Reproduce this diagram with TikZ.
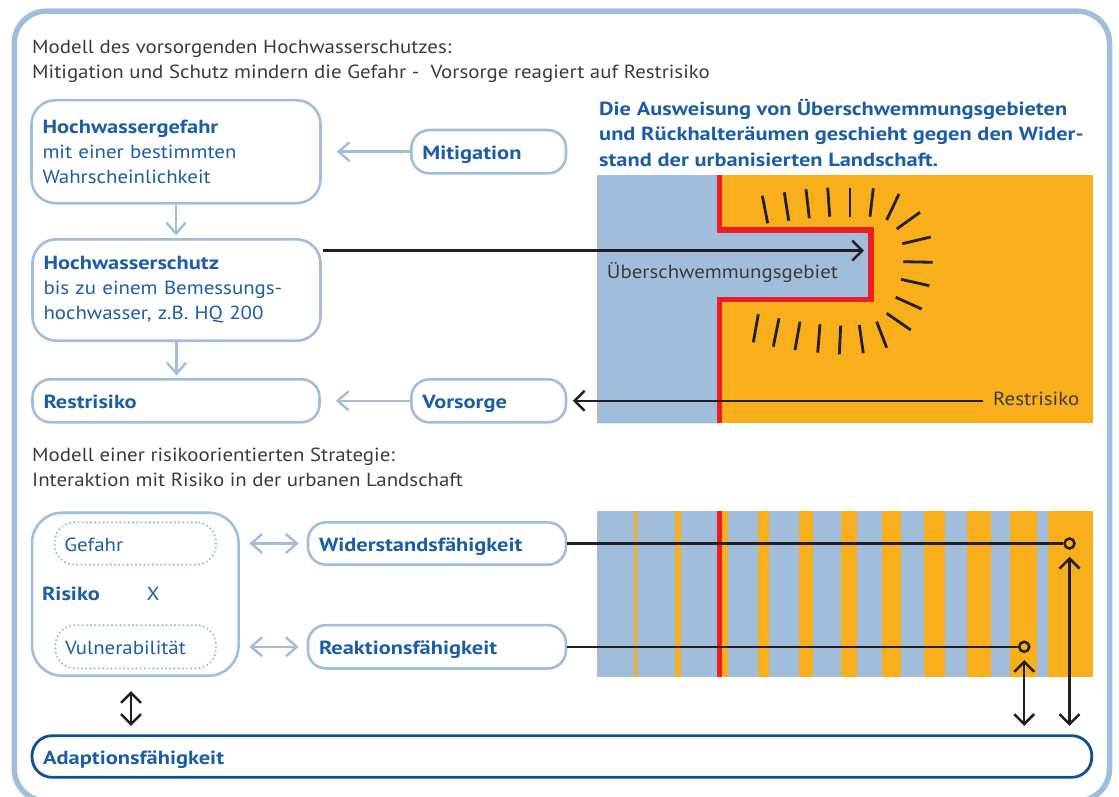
\documentclass[tikz,border=0pt]{standalone}
\usepackage{fontspec}
\setmainfont{PT Sans}[FakeStretch=1.10]
\newfontfamily\heavy{PT Sans Bold}[FakeStretch=1.18]
\newcommand\bolder[1]{{\heavy #1}}
\usetikzlibrary{arrows.meta}
\definecolor{paleblue}{HTML}{A0BEDC}
\definecolor{textblue}{HTML}{1B5DA6}
\definecolor{deepblue}{HTML}{0F4F95}
\definecolor{amber}{HTML}{F9AF1C}
\definecolor{signalred}{HTML}{EC1D25}
\definecolor{ink}{HTML}{231F20}
\definecolor{graytext}{HTML}{3B3B3B}

\tikzset{
  palebarb/.tip={Straight Barb[length=11pt, width=19pt, line width=2.4pt]},
  inkbarb/.tip={Straight Barb[length=10pt, width=20pt, line width=2.5pt]},
  body/.style={font=\fontsize{19}{25}\selectfont},
  plain/.style={body, inner sep=0pt, anchor=base west},
  oneline/.style={text height=15.5pt, text depth=0pt},
  box/.style={body, draw=paleblue, line width=2.6pt, text=textblue, align=left,
    inner xsep=11pt, inner ysep=0pt},
  dotbox/.style={body, oneline, draw=paleblue, line width=2.4pt, line cap=round,
    dash pattern=on 0pt off 4.2pt, text=textblue, align=left,
    inner xsep=9.7pt, inner ysep=0pt, rounded corners=20pt},
  palearrow/.style={draw=paleblue, line width=2.4pt, -{palebarb}},
  paledouble/.style={draw=paleblue, line width=2.4pt, {palebarb}-{palebarb}},
  blk/.style={draw=ink, line width=2.5pt},
  blkarrow/.style={blk, -{inkbarb}},
  blkdouble/.style={blk, {inkbarb}-{inkbarb}},
  ring/.style={circle, draw=ink, line width=2.5pt, minimum size=10pt, inner sep=0pt},
  tick/.style={draw=ink, line width=2.8pt},
}

\begin{document}
\begin{tikzpicture}[x=1pt, y=-1pt]
\useasboundingbox (0,0) rectangle (1119,797);

% outer frame, its lower edge runs off the page
\begin{scope}
  \clip (0,0) rectangle (1119,797);
  \draw[paleblue, line width=5.5pt, rounded corners=32pt] (14.3,11.2) rectangle (1109.5,801);
\end{scope}

% ---------- upper model ----------
\node[plain, text=graytext] (capA1) at (32,54) {Modell des vorsorgenden Hochwasserschutzes:};
\node[plain, text=graytext] (capA2) at (32,79) {Mitigation und Schutz mindern die Gefahr -\ \ Vorsorge reagiert auf Restrisiko};

\node[box, rounded corners=24pt, minimum width=289pt, text width=267pt, minimum height=103pt]
  (haz) at (176,151.7) {\bolder{Hochwassergefahr}\\mit einer bestimmten\\Wahrscheinlichkeit};
\node[box, rounded corners=24pt, minimum width=288pt, text width=266pt, minimum height=101.4pt]
  (prot) at (176.5,290) {\bolder{Hochwasserschutz}\\bis zu einem Bemessungs-\\hochwasser, z.B. HQ 200};
\node[box, oneline, rounded corners=18pt, minimum width=287pt, text width=265pt, minimum height=43pt]
  (rest) at (176,400.8) {\bolder{Restrisiko}};
\node[box, oneline, rounded corners=18pt, minimum width=154.6pt, text width=132.6pt, minimum height=43.3pt]
  (miti) at (488.7,151.7) {\bolder{Mitigation}};
\node[box, oneline, rounded corners=18pt, minimum width=154.6pt, text width=132.6pt, minimum height=43pt]
  (vors) at (488.7,400.8) {\bolder{Vorsorge}};

\draw[palearrow, shorten >=15pt] (miti.west) -- (haz.east |- miti.west);
\draw[palearrow, shorten >=15pt] (vors.west) -- (rest.east |- vors.west);
\draw[palearrow, shorten >=2.5pt] (haz.south) -- (haz.south |- prot.north);
\draw[palearrow, shorten >=2.5pt] (prot.south) -- (prot.south |- rest.north);

% heading beside the map
\node[plain, text=textblue, font=\heavy\fontsize{19}{25}\selectfont] (headA) at (599,116) {Die Ausweisung von Überschwemmungsgebieten};
\node[plain, text=textblue, font=\heavy\fontsize{19}{25}\selectfont] (headB) at (599,141) {und Rückhalteräumen geschieht gegen den Wider-};
\node[plain, text=textblue, font=\heavy\fontsize{19}{25}\selectfont] (headC) at (599,166) {stand der urbanisierten Landschaft.};

% map: river (blue), urban land (amber), the red line between them
\fill[amber] (597.3,175) rectangle (1092.7,423.3);
\fill[paleblue] (597.3,175) -- (719.7,175) -- (719.7,230) -- (871,230) -- (871,299.5)
  -- (719.7,299.5) -- (719.7,423.3) -- (597.3,423.3) -- cycle;
\draw[signalred, line width=5.3pt] (719.7,175) -- (719.7,230) -- (871,230) -- (871,299.5)
  -- (719.7,299.5) -- (719.7,423.3);

% pressure strokes around the retention area
\foreach \xa/\ya/\xb/\yb in {
  762.3/195.7/767.7/223.3, 784.3/192.3/788.7/220.7, 806/189.3/809.3/218.3,
  827.7/187.7/829.7/216.7, 849.9/188.2/849.9/217.4, 873.3/188.3/870/216.7,
  899/194/886.7/220, 920/212.3/896.7/229, 930.7/237/902.3/243.7,
  932.7/262.3/903.3/261.7, 929.3/285.7/901/279.3, 921.7/309/895.7/297.3,
  910.7/330/886.7/313.3, 886.7/347.7/876.7/321.7, 863.3/353.3/859.3/325,
  839.3/354.3/840.7/325.7, 817.7/352.7/820/324.3, 795/350/800/321.7,
  773.3/346.7/779/318.3, 753.3/342.3/758.3/314.3}
  \draw[tick] (\xa,\ya) -- (\xb,\yb);

\node[plain, text=graytext] (flood) at (606.7,278.3) {Überschwemmungsgebiet};
\node[plain, text=graytext] (rrlabel) at (993,405.7) {Restrisiko};
\coordinate (floodtip) at (864,250.7);

\draw[blkarrow, shorten <=1.6pt] (prot.east |- floodtip) -- (floodtip);
\draw[blkarrow, shorten <=9.7pt, shorten >=5.5pt] (rrlabel.west |- vors.east) -- (vors.east);

% ---------- lower model ----------
\node[plain, text=graytext] (capB1) at (32,461) {Modell einer risikoorientierten Strategie:};
\node[plain, text=graytext] (capB2) at (32,486) {Interaktion mit Risiko in der urbanen Landschaft};

\node[draw=paleblue, line width=2.6pt, rounded corners=30pt, minimum width=206.5pt,
  minimum height=163pt, inner sep=0pt] (risk) at (135.3,594.2) {};
\node[dotbox, minimum width=161.4pt, text width=142pt, minimum height=42.3pt]
  (haz2) at (135.3,543.5) {Gefahr};
\node[dotbox, minimum width=160.6pt, text width=141.2pt, minimum height=43.3pt]
  (vuln) at (135.7,646.8) {Vulnerabilität};
\node[plain, text=textblue, font=\heavy\fontsize{19}{25}\selectfont] (risklabel) at (41.8,600) {Risiko};
\node[plain, text=textblue] (times) at (146.4,600) {X};

\node[box, oneline, rounded corners=18pt, minimum width=258pt, text width=236pt, minimum height=42.3pt]
  (wid) at (437,543.5) {\bolder{Widerstandsfähigkeit}};
\node[box, oneline, rounded corners=18pt, minimum width=258pt, text width=236pt, minimum height=43.3pt]
  (rea) at (437,646.8) {\bolder{Reaktionsfähigkeit}};

\draw[paledouble, shorten <=9.5pt, shorten >=8pt] (risk.east |- wid.west) -- (wid.west);
\draw[paledouble, shorten <=9.5pt, shorten >=8pt] (risk.east |- rea.west) -- (rea.west);

\node[body, oneline, draw=deepblue, line width=2.8pt, rounded corners=20pt, minimum width=1059.7pt,
  text width=1037.7pt, minimum height=41.6pt, inner xsep=11pt, inner ysep=0pt, align=left,
  text=textblue] (adapt) at (561.9,756.5) {\bolder{Adaptionsfähigkeit}};

% striped band: alternating river and urban strips
\fill[paleblue] (597,511) rectangle (1092.7,676.7);
\foreach \l/\r in {633.7/636.7, 675.3/680.7, 722.3/728, 757.7/769, 799.3/812.7,
  840.7/857.3, 882/901, 923.7/945.3, 967.3/991.3, 1010.3/1037.3, 1048/1092.7}
  \fill[amber] (\l,511) rectangle (\r,676.7);
\fill[signalred] (717,511) rectangle (722.3,676.7);

\node[ring] (ringW) at (1069.5,543.5) {};
\node[ring] (ringR) at (1024.2,646.8) {};
\draw[blk] (wid.east) -- (ringW.west);
\draw[blk] (rea.east) -- (ringR.west);
\draw[blkdouble, shorten <=7pt, shorten >=8.5pt] (ringW.south) -- (ringW.south |- adapt.north);
\draw[blkdouble, shorten <=7pt, shorten >=8.5pt] (ringR.south) -- (ringR.south |- adapt.north);
\draw[blkdouble, shorten <=14pt, shorten >=8.5pt] ([xshift=-4.3pt]risk.south) -- ([xshift=-4.3pt]risk.south |- adapt.north);
\end{tikzpicture}
\end{document}
